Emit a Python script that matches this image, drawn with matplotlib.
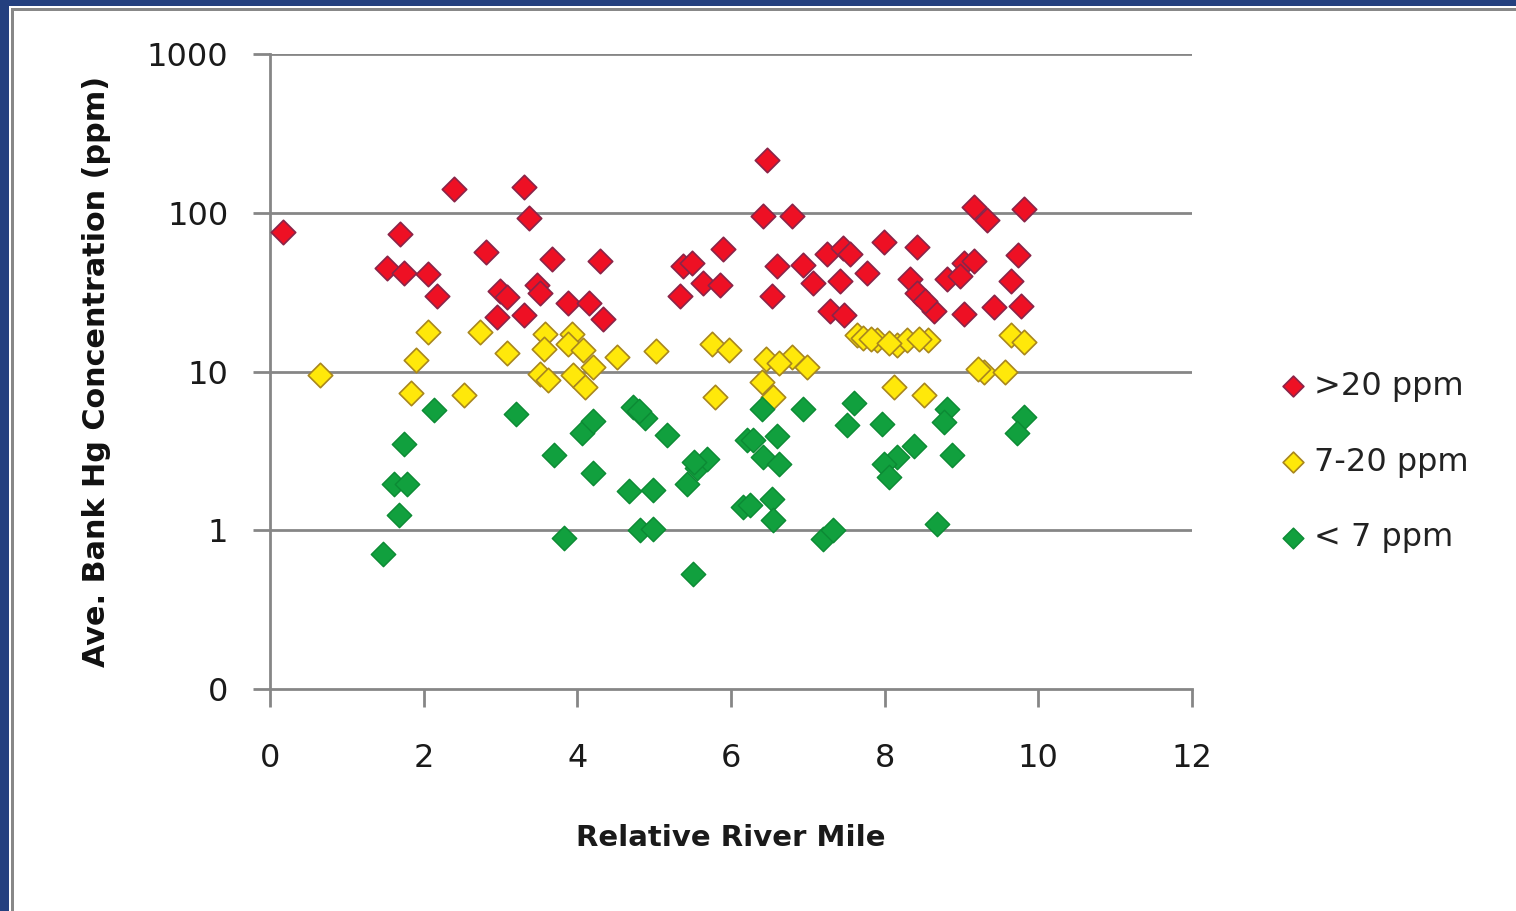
import matplotlib
matplotlib.use('Agg')
import matplotlib.pyplot as plt
import matplotlib.patches as mpatches

# --- data (relative river mile, Hg ppm) ---
red_x = [0.17, 1.52, 1.69, 1.74, 2.06, 2.17, 2.39, 2.81, 2.99, 3.08, 2.95, 3.30, 3.30, 3.37,
         3.47, 3.52, 3.67, 3.88, 4.15, 4.29, 4.34, 5.38, 5.49, 5.34, 5.64, 5.86, 5.90, 6.42,
         6.47, 6.79, 6.60, 6.53, 6.94, 7.07, 7.25, 7.46, 7.55, 7.42, 7.77, 7.29, 7.47, 7.99,
         8.42, 8.33, 8.42, 8.64, 8.81, 9.03, 9.16, 9.03, 9.16, 9.33, 9.81, 9.74, 9.64, 9.42,
         9.77, 8.52, 8.98]
red_y = [76, 45, 74, 42, 41, 30, 142, 57, 32, 29.5, 22, 22.6, 145, 92,
         35, 31, 51, 27, 27, 50, 21.5, 46, 48, 30, 36, 35, 59, 96,
         214, 96, 46, 30, 47, 36, 55, 60, 55, 37, 42, 24, 22.6, 65,
         61, 38, 31, 24, 38, 48, 50, 23, 109, 90, 106, 54, 37, 25.5,
         26, 28, 40]

yel_x = [0.65, 2.05, 1.90, 1.84, 2.53, 2.73, 3.08, 3.58, 3.56, 3.93, 3.88, 4.08, 4.21, 4.51,
         3.52, 3.62, 3.95, 4.10, 5.03, 5.75, 5.97, 6.45, 6.79, 6.99, 6.40, 6.55, 5.79, 7.64,
         7.72, 7.90, 8.16, 8.29, 8.57, 8.12, 8.51, 9.29, 9.57, 9.64, 9.81, 7.82, 8.05, 8.45,
         9.22, 6.62]
yel_y = [9.5, 17.7, 11.9, 7.3, 7.1, 17.7, 13, 17.3, 13.9, 17.3, 14.9, 13.6, 10.7, 12.4,
         9.7, 8.8, 9.5, 8.0, 13.4, 15, 13.6, 12, 12.3, 10.7, 8.6, 6.9, 6.9, 16.9,
         16.3, 15.7, 14.6, 15.7, 15.7, 8.0, 7.1, 9.9, 9.9, 16.9, 15.4, 16.0, 15.2, 16.0,
         10.3, 11.3]

grn_x = [1.47, 1.61, 1.78, 1.68, 1.74, 2.13, 3.20, 3.69, 3.82, 4.06, 4.21, 4.21, 4.73, 4.88,
         4.80, 5.17, 4.67, 4.99, 4.82, 4.99, 5.51, 5.43, 5.56, 5.69, 5.52, 6.16, 6.21, 6.40,
         6.29, 6.60, 6.42, 6.62, 6.25, 6.53, 6.55, 7.20, 7.33, 6.94, 7.60, 7.51, 7.96, 8.38,
         8.16, 7.99, 8.05, 8.88, 8.81, 8.77, 8.68, 9.81, 9.72]
grn_y = [0.71, 1.97, 1.97, 1.24, 3.5, 5.7, 5.4, 3.0, 0.89, 4.1, 4.9, 2.3, 6.0, 5.1,
         5.6, 4.0, 1.76, 1.8, 1.0, 1.02, 0.53, 1.97, 2.45, 2.8, 2.68, 1.4, 3.7, 5.8,
         3.7, 3.9, 2.9, 2.6, 1.44, 1.58, 1.16, 0.88, 1.0, 5.8, 6.3, 4.6, 4.7, 3.4,
         2.9, 2.6, 2.17, 3.0, 5.8, 4.8, 1.1, 5.2, 4.1]

yticks = [0.1, 1, 10, 100, 1000]
ytick_labels = ['0', '1', '10', '100', '1000']
xticks = [0, 2, 4, 6, 8, 10, 12]

plt.rcParams['font.family'] = ['DejaVu Sans']
W, H = 1516, 911
fig = plt.figure(figsize=(W / 100, H / 100), dpi=100)
fig.patch.set_facecolor('white')

# slide frame: blue band on left/top, grey rule inside
fig.patches.append(mpatches.Rectangle((0, 0), 1, 1, transform=fig.transFigure,
                                      facecolor='#24407f', edgecolor='none', zorder=-10))
fig.patches.append(mpatches.Rectangle((9 / W, 0), 1, (H - 6) / H, transform=fig.transFigure,
                                      facecolor='white', edgecolor='none', zorder=-9))
fig.patches.append(mpatches.Rectangle((11 / W, 0), 3 / W, (H - 8) / H, transform=fig.transFigure,
                                      facecolor='#888888', edgecolor='none', zorder=-8))
fig.patches.append(mpatches.Rectangle((11 / W, (H - 11) / H), 1, 3 / H, transform=fig.transFigure,
                                      facecolor='#888888', edgecolor='none', zorder=-8))

ax = fig.add_axes([270 / W, 1 - 689 / H, (1192 - 270) / W, (689 - 54) / H])
ax.set_facecolor('none')

ms = 155
ax.scatter(red_x, red_y, marker='D', s=ms, c='#ee1024', edgecolors='#8a2448', linewidths=1.2,
           label='>20 ppm', zorder=3)
ax.scatter(yel_x, yel_y, marker='D', s=ms, c='#ffe80a', edgecolors='#a8861e', linewidths=1.2,
           label='7-20 ppm', zorder=3)
ax.scatter(grn_x, grn_y, marker='D', s=ms, c='#11a03e', edgecolors='#0c8a34', linewidths=1.0,
           label='< 7 ppm', zorder=3)

ax.set_yscale('log')
ax.set_ylim(0.1, 1000)
ax.set_xlim(0, 12)
ax.set_yticks(yticks)
ax.set_yticklabels(ytick_labels)
ax.minorticks_off()
ax.set_xticks(xticks)

grey = '#868686'
for v in [1, 10, 100, 1000]:
    ax.axhline(v, color=grey, lw=2, zorder=1)
for s in ['top', 'right']:
    ax.spines[s].set_visible(False)
for s in ['left', 'bottom']:
    ax.spines[s].set_color(grey)
    ax.spines[s].set_linewidth(2)
ax.tick_params(axis='x', length=13, width=2, color=grey, direction='out', pad=26,
               labelsize=23, labelcolor='#1a1a1a')
ax.tick_params(axis='y', length=12, width=2, color=grey, direction='out', pad=18,
               labelsize=23, labelcolor='#1a1a1a')

ax.set_xlabel('Relative River Mile', fontsize=21, fontweight='bold', color='#1a1a1a', labelpad=36)
ax.set_ylabel('Ave. Bank Hg Concentration (ppm)', fontsize=21.8, fontweight='bold',
              color='#111111', labelpad=26)

ax.legend(loc='center left', bbox_to_anchor=(1277 / W, 1 - 462 / H),
          bbox_transform=fig.transFigure, frameon=False, fontsize=23,
          markerscale=0.85, handlelength=1.0, handletextpad=0.15, labelspacing=1.4,
          borderaxespad=0, borderpad=0, labelcolor='#222222')

fig.savefig('out.png', dpi=100)
